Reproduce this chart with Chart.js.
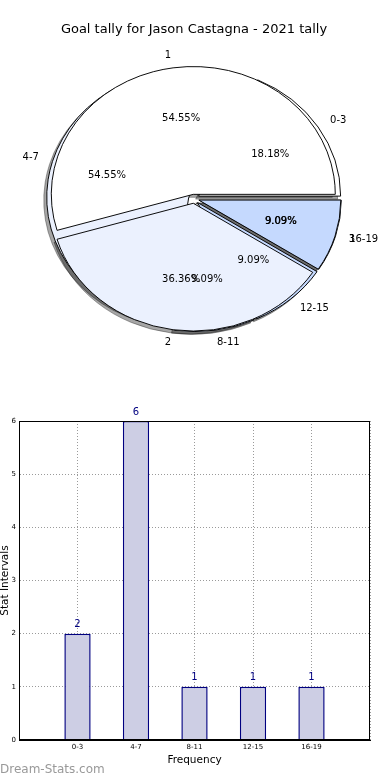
<!DOCTYPE html>
<html>
<head>
<meta charset="utf-8">
<script src="https://cdn.jsdelivr.net/npm/chart.js@4.4.0/dist/chart.umd.min.js"></script>
<style>
  html, body { margin: 0; padding: 0; background: #fff; }
  body { width: 390px; height: 780px; position: relative; overflow: hidden; }
  #pieChart { position: absolute; left: 0; top: 0; }
  #barChart { position: absolute; left: 0; top: 380px; }
</style>
</head>
<body>
<canvas id="pieChart" width="390" height="380"></canvas>
<canvas id="barChart" width="390" height="400"></canvas>
<script>
// Data
const goalLabels = ['1', '2', '3'];
const goalValues = [6, 4, 1];
const intervalLabels = ['0-3', '4-7', '8-11', '12-15', '16-19'];
const intervalValues = [2, 6, 1, 1, 1];
const barTicks = [0, 1, 2, 3, 4, 5, 6];

const goalColors = ['#ffffff', '#ebf1fe', '#c5d9fe'];
const intervalColors = ['#ffffff', '#ebf1fe', '#c5d9fe', '#c5d9fe', '#c5d9fe'];

const FONT = '"DejaVu Sans", sans-serif';
const PIE_R = 142;       // horizontal radius
const Y_SQUASH = 0.9;    // pie is drawn as an ellipse
const SHADOW = 'rgba(0, 0, 0, 0.35)';

// Chart.js goes clockwise, matplotlib counter-clockwise: flip the order
const rev = arr => arr.slice().reverse();

function pieCenter(chart) {
    const a = chart.chartArea;
    return { cx: (a.left + a.right) / 2, cy: (a.top + a.bottom) / 2 };
}

function squash(ctx, cx, cy) {
    ctx.translate(cx, cy);
    ctx.scale(1, Y_SQUASH);
    ctx.translate(-cx, -cy);
}

// Both pies share the full radius and are exploded like matplotlib
const pieShape = {
    id: 'pieShape',
    afterDatasetUpdate(chart, args) {
        const { cx, cy } = pieCenter(chart);
        const explode = chart.data.datasets[args.index].explode;
        args.meta.data.forEach(arc => {
            const mid = (arc.startAngle + arc.endAngle) / 2;
            arc.innerRadius = 0;
            arc.outerRadius = PIE_R;
            arc.x = cx + Math.cos(mid) * explode;
            arc.y = cy + Math.sin(mid) * explode;
        });
    },
    beforeDatasetsDraw(chart) {
        const ctx = chart.ctx;
        const { cx, cy } = pieCenter(chart);
        // shadows first, under every wedge
        ctx.save();
        ctx.translate(-3, 3);
        squash(ctx, cx, cy);
        chart.data.datasets.forEach((ds, i) => {
            chart.getDatasetMeta(i).data.forEach(arc => {
                const o = arc.options;
                arc.options = Object.assign({}, o, { backgroundColor: SHADOW, borderColor: SHADOW });
                arc.draw(ctx);
                arc.options = o;
            });
        });
        ctx.restore();
        ctx.save();
        squash(ctx, cx, cy);
    },
    afterDatasetsDraw(chart) {
        chart.ctx.restore();
    },
    afterDraw(chart) {
        const ctx = chart.ctx;
        const { cx, cy } = pieCenter(chart);
        ctx.save();
        ctx.font = '10px ' + FONT;
        ctx.fillStyle = '#000';
        ctx.textBaseline = 'middle';
        chart.data.datasets.forEach((ds, i) => {
            const total = ds.data.reduce((s, v) => s + v, 0);
            chart.getDatasetMeta(i).data.forEach((arc, j) => {
                const mid = (arc.startAngle + arc.endAngle) / 2;
                const c = Math.cos(mid), s = Math.sin(mid);
                const lr = ds.explode + 1.1 * PIE_R;
                ctx.textAlign = c > 0 ? 'left' : 'right';
                ctx.fillText(ds.sliceLabels[j], cx + c * lr, cy + s * lr * Y_SQUASH);
                const pr = ds.explode + 0.6 * PIE_R;
                ctx.textAlign = 'center';
                ctx.fillText((ds.data[j] / total * 100).toFixed(2) + '%', cx + c * pr, cy + s * pr * Y_SQUASH);
            });
        });
        ctx.restore();
    }
};

new Chart(document.getElementById('pieChart'), {
    type: 'pie',
    data: {
        datasets: [
            {
                data: rev(goalValues),
                sliceLabels: rev(goalLabels),
                backgroundColor: rev(goalColors),
                explode: 5
            },
            {
                data: rev(intervalValues),
                sliceLabels: rev(intervalLabels),
                backgroundColor: rev(intervalColors),
                explode: 5.5
            }
        ].map(ds => Object.assign(ds, { borderColor: '#000', borderWidth: 1, hoverOffset: 0, clip: false }))
    },
    options: {
        responsive: false,
        animation: false,
        events: [],
        rotation: 90,
        layout: { padding: { left: 2, right: 4, top: 0, bottom: 20 } },
        plugins: {
            legend: { display: false },
            tooltip: { enabled: false },
            title: {
                display: true,
                text: 'Goal tally for Jason Castagna - 2021 tally',
                color: '#000',
                font: { family: FONT, size: 13, weight: 'normal' },
                padding: { top: 22, bottom: 0 }
            }
        }
    },
    plugins: [pieShape]
});

// Bar chart extras: frame, value labels, axis titles, watermark
const barDecor = {
    id: 'barDecor',
    afterDraw(chart) {
        const { ctx, chartArea: a } = chart;
        ctx.save();
        ctx.strokeStyle = '#000';
        ctx.lineWidth = 1;
        ctx.strokeRect(Math.round(a.left) + 0.5, Math.round(a.top) + 0.5,
            Math.round(a.right - a.left) - 1, Math.round(a.bottom - a.top) - 1);

        ctx.fillStyle = '#000080';
        ctx.font = '10px ' + FONT;
        ctx.textAlign = 'center';
        ctx.textBaseline = 'middle';
        chart.getDatasetMeta(0).data.forEach((bar, i) => {
            ctx.fillText(String(intervalValues[i]), bar.x, bar.y - 9);
        });

        ctx.fillStyle = '#000';
        ctx.font = '10.5px ' + FONT;
        ctx.fillText('Frequency', (a.left + a.right) / 2, 380);

        ctx.save();
        ctx.translate(7.5, (a.top + a.bottom) / 2);
        ctx.rotate(-Math.PI / 2);
        ctx.textBaseline = 'alphabetic';
        ctx.fillText('Stat Intervals', 0, 0);
        ctx.restore();

        ctx.fillStyle = '#999999';
        ctx.font = '12px ' + FONT;
        ctx.textAlign = 'left';
        ctx.fillText('Dream-Stats.com', 0, 390);
        ctx.restore();
    }
};

const gridStyle = { color: '#9a9a9a', lineWidth: 1, drawTicks: false, offset: false };
const borderStyle = { color: '#000', width: 1, dash: [1, 2] };
const tickFont = { family: FONT, size: 7 };

new Chart(document.getElementById('barChart'), {
    type: 'bar',
    data: {
        datasets: [{
            data: intervalLabels.map((c, i) => ({ x: i, y: intervalValues[i] })),
            backgroundColor: '#cdcee4',
            borderColor: '#000080',
            borderWidth: 1.5,
            inflateAmount: 0,
            barPercentage: 0.45,
            categoryPercentage: 1
        }]
    },
    options: {
        responsive: false,
        animation: false,
        events: [],
        layout: { padding: { left: 0, right: 20, top: 41, bottom: 0 } },
        plugins: { legend: { display: false }, tooltip: { enabled: false } },
        scales: {
            x: {
                type: 'linear',
                min: -1,
                max: intervalLabels.length,
                offset: false,
                z: 1,
                grid: gridStyle,
                border: borderStyle,
                ticks: {
                    stepSize: 1,
                    autoSkip: false,
                    maxRotation: 0,
                    padding: 3,
                    color: '#000',
                    font: tickFont,
                    callback: v => intervalLabels[v] || ''
                },
                afterFit: s => { s.height = 40; }
            },
            y: {
                min: barTicks[0],
                max: barTicks[barTicks.length - 1],
                z: 1,
                grid: gridStyle,
                border: borderStyle,
                ticks: { padding: 3, color: '#000', font: tickFont },
                afterBuildTicks: s => { s.ticks = barTicks.map(v => ({ value: v })); },
                afterFit: s => { s.width = 19; }
            }
        }
    },
    plugins: [barDecor]
});
</script>
</body>
</html>
